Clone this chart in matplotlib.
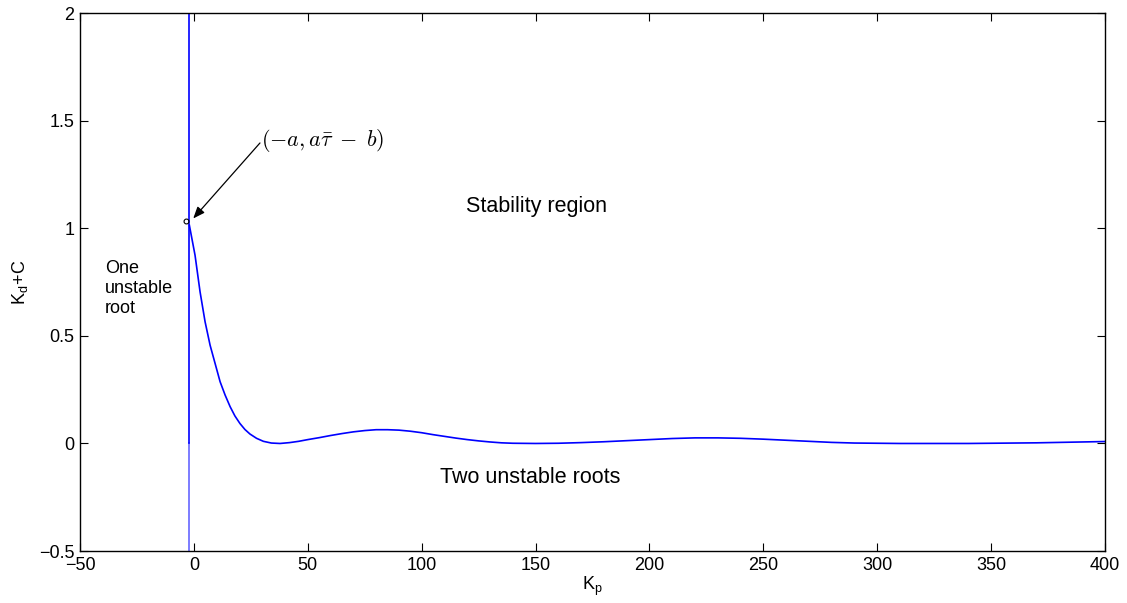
import numpy as np
import matplotlib.pyplot as plt

plt.rcParams['font.family'] = ['Liberation Sans', 'DejaVu Sans']
plt.rcParams['mathtext.fontset'] = 'cm'

# boundary curve
kp = [-2, 0.5, 2.7, 4.9, 7.1, 9.3, 11.5, 13.7, 15.9, 18, 20.2, 22.4, 24.6, 27.5,
      30.5, 34, 37.8, 42, 46, 50, 55, 60, 65, 70, 75, 80, 85, 90, 95, 100, 105, 110,
      115, 120, 125, 130, 135, 140, 150, 160, 170, 180, 190, 200, 210, 220, 230,
      240, 250, 260, 270, 280, 290, 300, 310, 320, 330, 340, 350, 360, 370, 380,
      390, 400]
kd = [1.015, 0.875, 0.705, 0.566, 0.457, 0.372, 0.287, 0.225, 0.171, 0.128, 0.093,
      0.065, 0.044, 0.024, 0.010, 0.002, 0.0, 0.004, 0.010, 0.018, 0.027, 0.037,
      0.046, 0.054, 0.060, 0.064, 0.064, 0.062, 0.057, 0.050, 0.041, 0.033, 0.025,
      0.018, 0.012, 0.007, 0.003, 0.001, 0.0, 0.001, 0.004, 0.008, 0.013, 0.018,
      0.023, 0.026, 0.026, 0.024, 0.020, 0.015, 0.010, 0.005, 0.002, 0.001, 0.0,
      0.0, 0.0, 0.0, 0.001, 0.002, 0.003, 0.005, 0.007, 0.009]
vline_x = -2
point = (-3.5, 1.035)
arrow_tail = (29, 1.397)
arrow_head = (-0.3, 1.046)

fig = plt.figure(figsize=(11.27, 6.03), dpi=100)
ax = fig.add_axes([0.071, 0.0862, 0.9095, 0.8918])

ax.plot(kp, kd, color='blue', lw=1.2)
ax.plot([vline_x, vline_x], [0, 2], color='blue', lw=1.2)
ax.plot([vline_x, vline_x], [-0.5, 0], color='blue', lw=1.2, alpha=0.6)
ax.plot([point[0]], [point[1]], 'o', mfc='none', mec='black', ms=3.5, mew=0.8)

ax.annotate('', xy=arrow_head, xytext=arrow_tail,
            arrowprops=dict(arrowstyle='-|>,head_length=0.5,head_width=0.2',
                            color='black', lw=0.9, mutation_scale=14,
                            shrinkA=0, shrinkB=0))
ax.text(29.3, 1.41, r'$(-a, a\bar{\tau}\;-\;b)$', fontsize=16,
        ha='left', va='center')

ax.text(150.5, 1.1, 'Stability region', fontsize=15.5, ha='center', va='center')
ax.text(147.5, -0.16, 'Two unstable roots', fontsize=15.5, ha='center', va='center')
ax.text(-39, 0.72, 'One\nunstable\nroot', fontsize=13, ha='left', va='center',
        linespacing=1.2)

ax.set_xlim(-50, 400)
ax.set_ylim(-0.5, 2)
ax.set_xticks(np.arange(-50, 401, 50))
ax.set_yticks([-0.5, 0, 0.5, 1, 1.5, 2])
ax.set_yticklabels(['\u22120.5', '0', '0.5', '1', '1.5', '2'])
ax.set_xticklabels(['\u221250'] + [str(v) for v in range(0, 401, 50)])
ax.tick_params(direction='in', top=True, right=True, length=6, width=0.8,
               labelsize=13, pad=4)
for s in ax.spines.values():
    s.set_linewidth(1.0)

ax.set_xlabel(r'K$_\mathregular{p}$', fontsize=13, labelpad=1)
ax.set_ylabel(r'K$_\mathregular{d}$+C', fontsize=13, labelpad=6)

fig.savefig('out.png', dpi=100)
